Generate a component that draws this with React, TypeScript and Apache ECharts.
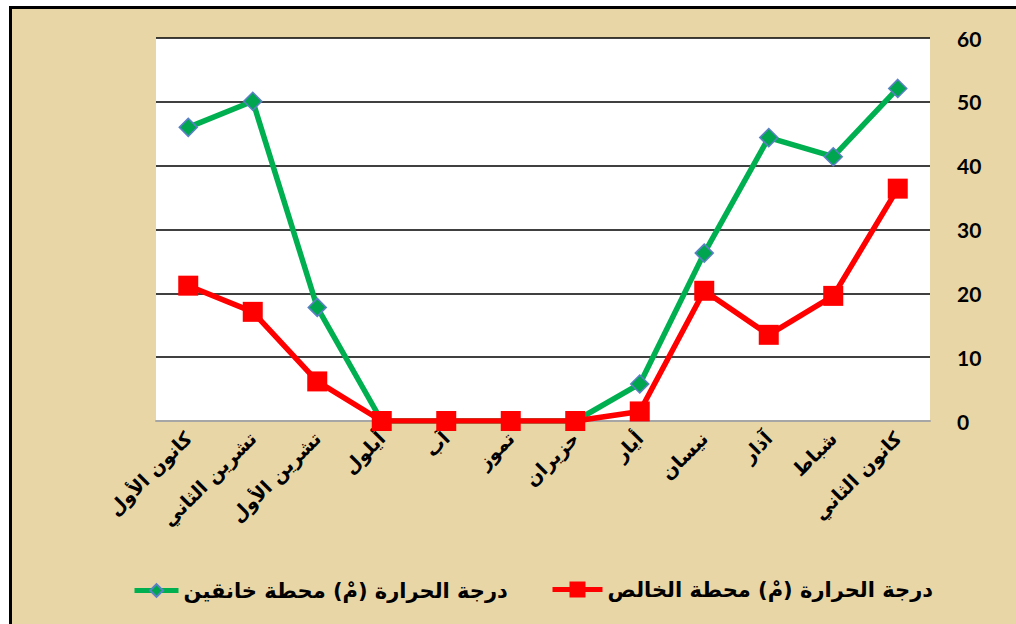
import React, { useEffect, useRef } from "react";
import * as echarts from "echarts";

// Months, January .. December (axis is drawn inverted: January on the right)
const months = [
  "كانون الثاني",
  "شباط",
  "آذار",
  "نيسان",
  "أيار",
  "حزيران",
  "تموز",
  "آب",
  "أيلول",
  "تشرين الأول",
  "تشرين الثاني",
  "كانون الأول",
];

const khanaqinName = "درجة الحرارة (مْ) محطة خانقين";
const khalisName = "درجة الحرارة (مْ) محطة الخالص";

const khanaqin = [52.1, 41.4, 44.4, 26.3, 5.8, 0, 0, 0, 0, 17.8, 50.1, 46.0];
const khalis = [36.4, 19.6, 13.5, 20.4, 1.5, 0, 0, 0, 0, 6.2, 17.1, 21.2];

const yTicks = { min: 0, max: 60, interval: 10 };

export default function App() {
  const ref = useRef<HTMLDivElement>(null);

  useEffect(() => {
    document.body.style.margin = "0";
    if (!ref.current) return;
    const chart = echarts.init(ref.current, undefined, { renderer: "svg" });
    const arabicFont = "DejaVu Sans";
    chart.setOption({
      animation: false,
      backgroundColor: "transparent",
      grid: {
        left: 156,
        right: 86,
        top: 38,
        bottom: 203,
        show: true,
        backgroundColor: "#ffffff",
        borderWidth: 0,
      },
      legend: [
        {
          data: [khanaqinName],
          left: 127,
          top: 575,
          itemWidth: 44,
          itemHeight: 16,
          itemGap: 10,
          lineStyle: { width: 5 },
          textStyle: { fontFamily: arabicFont, fontWeight: "bold", fontSize: 21, color: "#000" },
        },
        {
          data: [khalisName],
          left: 545,
          top: 574,
          itemWidth: 50,
          itemHeight: 20,
          lineStyle: { width: 5 },
          textStyle: { fontFamily: arabicFont, fontWeight: "bold", fontSize: 21, color: "#000" },
        },
      ],
      xAxis: {
        type: "category",
        data: months,
        inverse: true,
        boundaryGap: true,
        axisLine: { show: true, lineStyle: { color: "#a6a6a6", width: 2 } },
        axisTick: { show: false },
        axisLabel: {
          interval: 0,
          rotate: 45,
          margin: 14,
          fontFamily: arabicFont,
          fontWeight: "bold",
          fontSize: 19,
          color: "#000",
        },
        splitLine: { show: false },
      },
      yAxis: {
        type: "value",
        position: "right",
        min: yTicks.min,
        max: yTicks.max,
        interval: yTicks.interval,
        axisLine: { show: false },
        axisTick: { show: false },
        axisLabel: {
          margin: 27,
          fontFamily: "Lato",
          fontWeight: "bold",
          fontSize: 21,
          color: "#000",
        },
        splitLine: { show: true, lineStyle: { color: "#000", width: 1.5 } },
      },
      series: [
        {
          name: khanaqinName,
          type: "line",
          data: khanaqin,
          symbol: "diamond",
          symbolSize: 18,
          lineStyle: { color: "#00b050", width: 5.5 },
          itemStyle: { color: "#00a550", borderColor: "#5b7fc8", borderWidth: 1.5 },
          z: 2,
        },
        {
          name: khalisName,
          type: "line",
          data: khalis,
          symbol: "rect",
          symbolSize: 20,
          lineStyle: { color: "#ff0000", width: 5.5 },
          itemStyle: { color: "#ff0000", borderColor: "#ff0000", borderWidth: 0 },
          z: 3,
        },
      ],
    });
    return () => chart.dispose();
  }, []);

  return (
    <div style={{ position: "relative", width: 1016, height: 624, overflow: "hidden", background: "#fff" }}>
      <div
        style={{
          position: "absolute",
          left: 9,
          top: 6,
          width: 1100,
          height: 700,
          border: "3px solid #000",
          background: "#e8d6a6",
        }}
      />
      <div ref={ref} style={{ position: "absolute", left: 0, top: 0, width: 1016, height: 624 }} />
    </div>
  );
}
